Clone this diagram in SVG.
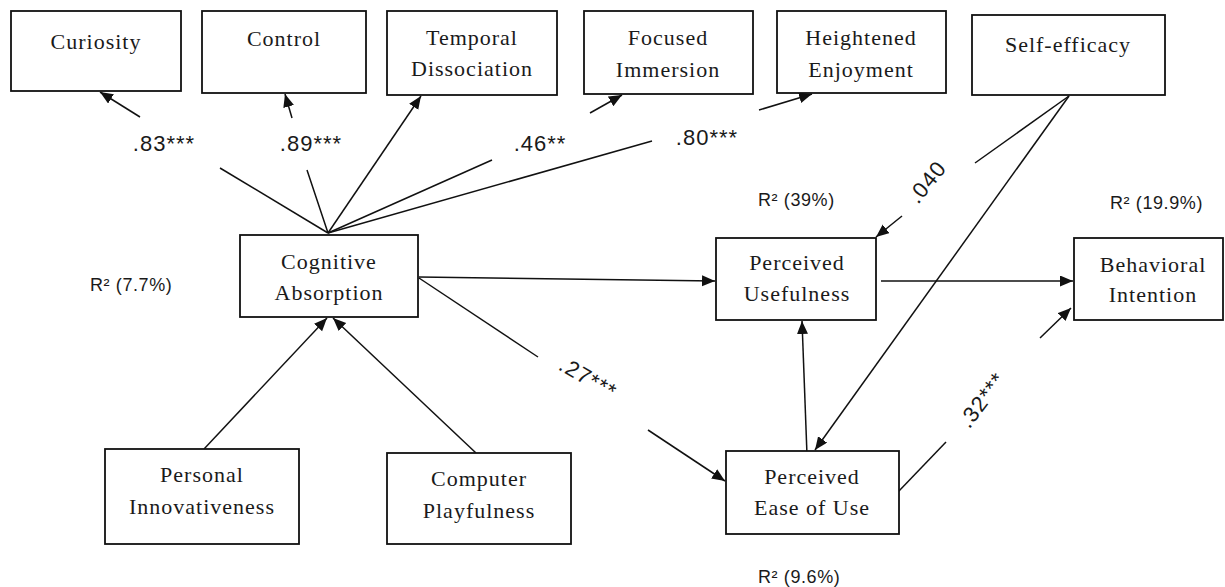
<svg xmlns="http://www.w3.org/2000/svg" width="1225" height="587" viewBox="0 0 1225 587">
<style>
.box{fill:#fff;stroke:#111;stroke-width:1.8}
.t{font-family:"Liberation Serif","Times New Roman",serif;font-size:22px;letter-spacing:1px;fill:#1a1a1a;text-anchor:middle}
.r{font-family:"Liberation Sans",Arial,sans-serif;font-size:18px;letter-spacing:0.6px;fill:#1a1a1a}
.c{font-family:"Liberation Sans",Arial,sans-serif;font-size:22px;letter-spacing:1px;fill:#1a1a1a;text-anchor:middle;dominant-baseline:central}
.ln{stroke:#111;stroke-width:1.5;fill:none}
.ar{marker-end:url(#ah)}
</style>
<defs>
<marker id="ah" markerUnits="userSpaceOnUse" markerWidth="14" markerHeight="12" refX="13" refY="5.5" orient="auto">
<path d="M0,0 L13,5.5 L0,11 z" fill="#111"/>
</marker>
</defs>
<rect width="1225" height="587" fill="#fff"/>

<g id="connectors">
<line class="ln" x1="328" y1="233" x2="220" y2="168"/>
<line class="ln ar" x1="140" y1="117" x2="100" y2="92"/>
<line class="ln" x1="328" y1="233" x2="307" y2="170"/>
<line class="ln ar" x1="292" y1="118" x2="285" y2="94"/>
<line class="ln ar" x1="328" y1="233" x2="421" y2="96"/>
<line class="ln" x1="328" y1="233" x2="492" y2="160"/>
<line class="ln ar" x1="590" y1="113" x2="622" y2="95"/>
<line class="ln" x1="328" y1="233" x2="652" y2="141"/>
<line class="ln ar" x1="759" y1="110" x2="812" y2="94"/>
<line class="ln" x1="1069" y1="96" x2="975" y2="163"/>
<line class="ln ar" x1="902" y1="216" x2="876" y2="237"/>
<line class="ln ar" x1="1069" y1="96" x2="815" y2="450"/>
<line class="ln ar" x1="419" y1="277" x2="715" y2="281"/>
<line class="ln" x1="419" y1="278" x2="538" y2="357"/>
<line class="ln ar" x1="648" y1="430" x2="725" y2="481"/>
<line class="ln ar" x1="881" y1="281" x2="1073" y2="281"/>
<line class="ln ar" x1="807" y1="455" x2="802" y2="321"/>
<line class="ln" x1="898" y1="492" x2="946" y2="442"/>
<line class="ln ar" x1="1040" y1="338" x2="1071" y2="308"/>
<line class="ln ar" x1="204" y1="449" x2="327" y2="318"/>
<line class="ln ar" x1="476" y1="453" x2="333" y2="318"/>
</g>

<g id="curiosity"><rect class="box" x="11" y="11" width="170" height="80"/><text class="t" x="96" y="49">Curiosity</text></g>
<g id="control"><rect class="box" x="202" y="11" width="164" height="82"/><text class="t" x="284" y="46">Control</text></g>
<g id="temporal-dissociation"><rect class="box" x="387" y="11" width="170" height="84"/><text class="t" x="472" y="45">Temporal</text><text class="t" x="472" y="76">Dissociation</text></g>
<g id="focused-immersion"><rect class="box" x="584" y="11" width="169" height="83"/><text class="t" x="668" y="45">Focused</text><text class="t" x="668" y="77">Immersion</text></g>
<g id="heightened-enjoyment"><rect class="box" x="777" y="11" width="169" height="82"/><text class="t" x="861" y="45">Heightened</text><text class="t" x="861" y="77">Enjoyment</text></g>
<g id="self-efficacy"><rect class="box" x="972" y="15" width="193" height="80"/><text class="t" x="1068" y="52">Self-efficacy</text></g>
<g id="cognitive-absorption"><rect class="box" x="240" y="235" width="178" height="82"/><text class="t" x="329" y="269">Cognitive</text><text class="t" x="329" y="300">Absorption</text></g>
<g id="perceived-usefulness"><rect class="box" x="716" y="238" width="160" height="82"/><text class="t" x="797" y="270">Perceived</text><text class="t" x="797" y="301">Usefulness</text></g>
<g id="behavioral-intention"><rect class="box" x="1074" y="238" width="149" height="82"/><text class="t" x="1153" y="272">Behavioral</text><text class="t" x="1153" y="302">Intention</text></g>
<g id="personal-innovativeness"><rect class="box" x="105" y="449" width="194" height="95"/><text class="t" x="202" y="482">Personal</text><text class="t" x="202" y="514">Innovativeness</text></g>
<g id="computer-playfulness"><rect class="box" x="387" y="453" width="184" height="91"/><text class="t" x="479" y="486">Computer</text><text class="t" x="479" y="518">Playfulness</text></g>
<g id="perceived-ease-of-use"><rect class="box" x="726" y="451" width="173" height="83"/><text class="t" x="812" y="484">Perceived</text><text class="t" x="812" y="515">Ease of Use</text></g>

<g id="labels">
<text class="c" x="164" y="143">.83***</text>
<text class="c" x="311" y="143">.89***</text>
<text class="c" x="540" y="143">.46**</text>
<text class="c" x="707" y="137">.80***</text>
<text class="c" transform="translate(588,378) rotate(30)">.27***</text>
<text class="c" transform="translate(927,182) rotate(-51)">.040</text>
<text class="c" transform="translate(982,400) rotate(-53)">.32***</text>
<text class="r" x="90" y="291">R² (7.7%)</text>
<text class="r" x="758" y="206">R² (39%)</text>
<text class="r" x="1110" y="209">R² (19.9%)</text>
<text class="r" x="758" y="583">R² (9.6%)</text>
</g>
</svg>
